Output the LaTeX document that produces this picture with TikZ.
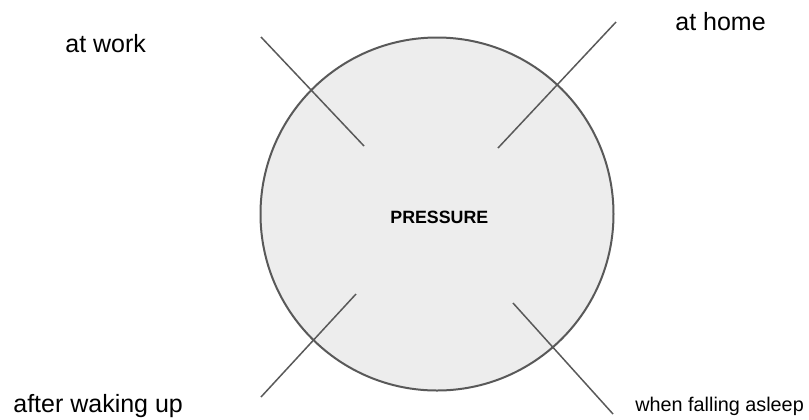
\documentclass[tikz,border=0pt]{standalone}
\usepackage{fontspec}
\setmainfont{Liberation Sans}
\usetikzlibrary{positioning}

\begin{document}
\begin{tikzpicture}[
    x=0.5pt, y=-0.5pt,
    ring/.style={circle, draw=black!65, fill=black!7, line width=1pt, minimum size=176.5pt, inner sep=0pt},
    ray/.style={draw=black!65, line width=0.75pt},
    tag/.style={anchor=base west, inner sep=0pt, font=\fontsize{12.5}{14}\selectfont},
    smalltag/.style={anchor=base west, inner sep=0pt, font=\fontsize{9.9}{12}\selectfont},
    core/.style={anchor=base west, inner sep=0pt, font=\fontsize{8.9}{11}\selectfont\bfseries}
]
\useasboundingbox (0,0) rectangle (809,419);

% ---------------- circle ----------------
\node[ring] (circ) at (437,214) {};
\node[core] (pressure) at (390,223) {PRESSURE};

% ---------------- labels ----------------
\node[tag]      (work)   at (65,52)   {at work};
\node[tag]      (home)   at (675,30)  {at home};
\node[tag]      (wake)   at (13,412)  {after waking up};
\node[smalltag] (asleep) at (635,411) {when falling asleep};

% ---------------- rays ----------------
\coordinate (ulin)  at (364,146);
\coordinate (ulout) at (261,37);
\coordinate (urin)  at (498,148);
\coordinate (urout) at (616,22);
\coordinate (llin)  at (356,294);
\coordinate (llout) at (261,397);
\coordinate (lrin)  at (513,303);
\coordinate (lrout) at (613,414);

\draw[ray] (ulout) -- (ulin);
\draw[ray] (urout) -- (urin);
\draw[ray] (llout) -- (llin);
\draw[ray] (lrout) -- (lrin);

\end{tikzpicture}
\end{document}
